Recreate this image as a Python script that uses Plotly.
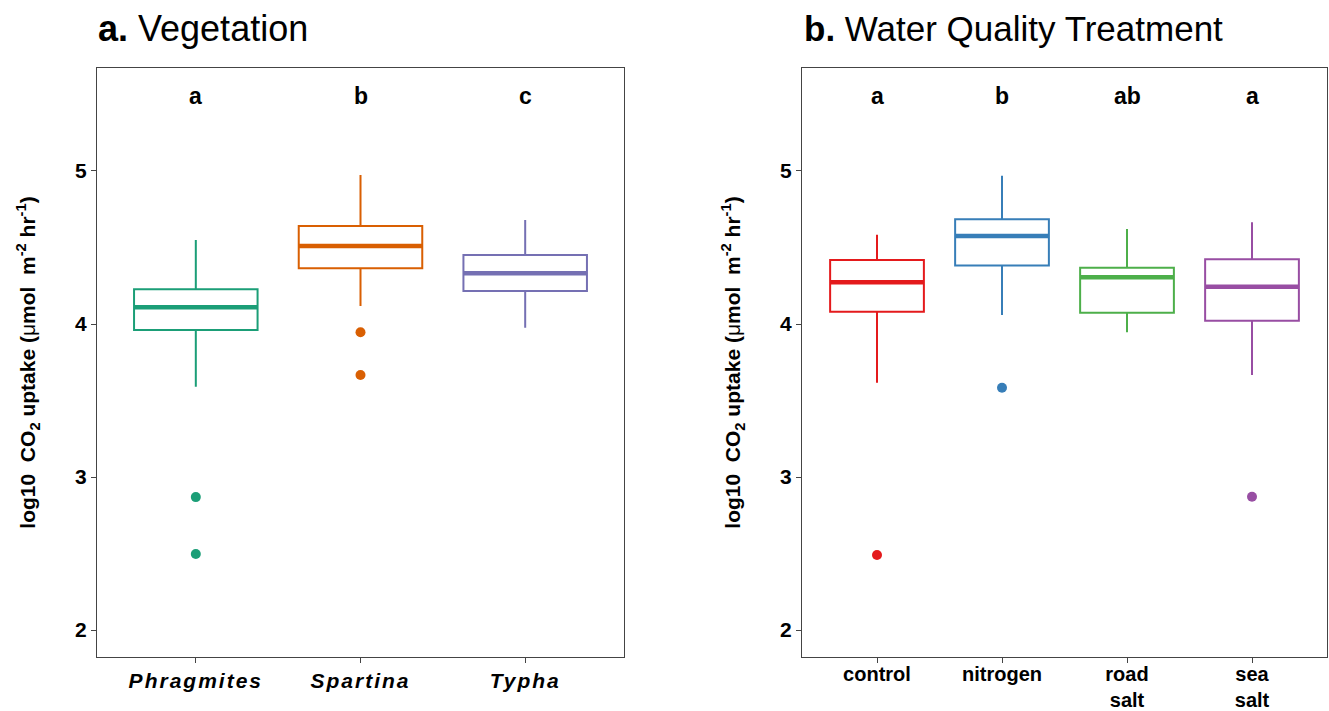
import plotly.graph_objects as go

# ---------------- data ----------------
veg_names = ["Phragmites", "Spartina", "Typha"]
veg_q1 = [3.961, 4.364, 4.216]
veg_median = [4.109, 4.510, 4.331]
veg_q3 = [4.227, 4.641, 4.451]
veg_low = [3.590, 4.118, 3.976]
veg_high = [4.549, 4.974, 4.680]
veg_outliers = [[2.869, 2.497], [3.946, 3.667], []]
veg_letters = ["a", "b", "c"]
veg_colors = ["#1B9E77", "#D95F02", "#7570B3"]

wq_names = ["control", "nitrogen", "road<br>salt", "sea<br>salt"]
wq_q1 = [4.080, 4.383, 4.074, 4.022]
wq_median = [4.273, 4.575, 4.305, 4.244]
wq_q3 = [4.418, 4.684, 4.368, 4.423]
wq_low = [3.616, 4.059, 3.946, 3.667]
wq_high = [4.584, 4.969, 4.621, 4.665]
wq_outliers = [[2.490], [3.584], [], [2.871]]
wq_letters = ["a", "b", "ab", "a"]
wq_colors = ["#E41A1C", "#377EB8", "#4DAF4A", "#984EA3"]

y_ticks = [2, 3, 4, 5]
y_range = [1.824, 5.673]
letter_y = 5.49
BOX_W = 0.75

FONT = "Liberation Sans, Arial, sans-serif"
W, H = 1329, 711

fig = go.Figure()


def add_panel(names, q1, med, q3, low, high, outl, letters, colors, xa, ya):
    for i in range(len(names)):
        c = colors[i]
        fig.add_trace(go.Box(
            x=[i], q1=[q1[i]], median=[med[i]], q3=[q3[i]],
            lowerfence=[low[i]], upperfence=[high[i]],
            width=BOX_W, whiskerwidth=0, boxpoints=False,
            line=dict(color=c, width=2), fillcolor="rgba(255,255,255,0)",
            xaxis=xa, yaxis=ya, showlegend=False, hoverinfo="skip"))
        # thick median line
        fig.add_trace(go.Scatter(
            x=[i - BOX_W / 2, i + BOX_W / 2], y=[med[i], med[i]],
            mode="lines", line=dict(color=c, width=4.5),
            xaxis=xa, yaxis=ya, showlegend=False, hoverinfo="skip"))
        if outl[i]:
            fig.add_trace(go.Scatter(
                x=[i] * len(outl[i]), y=outl[i], mode="markers",
                marker=dict(color=c, size=10),
                xaxis=xa, yaxis=ya, showlegend=False, hoverinfo="skip"))
        fig.add_annotation(x=i, y=letter_y, xref=xa, yref=ya, text="<b>%s</b>" % letters[i],
                           showarrow=False, font=dict(family=FONT, size=23, color="black"))


add_panel(veg_names, veg_q1, veg_median, veg_q3, veg_low, veg_high, veg_outliers,
          veg_letters, veg_colors, "x", "y")
add_panel(wq_names, wq_q1, wq_median, wq_q3, wq_low, wq_high, wq_outliers,
          wq_letters, wq_colors, "x2", "y2")

ytitle = ("<b>log10  CO<sub>2</sub> uptake (</b>μ<b>mol  m<sup>-2</sup> hr<sup>-1</sup>)</b>")

axis_common = dict(showline=True, linecolor="#444", linewidth=1, mirror=True,
                   ticks="outside", ticklen=5, tickcolor="#444", tickwidth=1,
                   showgrid=False, zeroline=False, automargin=False)
tick21 = dict(family=FONT, size=21, color="black")

fig.update_layout(
    width=W, height=H, margin=dict(l=0, r=0, t=0, b=0),
    paper_bgcolor="white", plot_bgcolor="white",
    font=dict(family=FONT, color="black"),
    xaxis=dict(domain=[97 / W, 624 / W], range=[-0.6, 2.6],
               tickvals=list(range(len(veg_names))), tickfont=tick21,
               ticktext=["<span style='letter-spacing:2px'><b><i>%s</i></b></span>" % n
                         for n in veg_names], anchor="y", **axis_common),
    yaxis=dict(domain=[1 - 657 / H, 1 - 68 / H], range=y_range, tickvals=y_ticks,
               ticktext=["<b>%d</b>" % v for v in y_ticks], anchor="x", tickfont=tick21,
               title=dict(text=ytitle, standoff=33, font=dict(family=FONT, size=21)),
               **axis_common),
    xaxis2=dict(domain=[802 / W, 1327 / W], range=[-0.6, 3.6],
                tickvals=list(range(len(wq_names))), ticklabelstandoff=-6,
                tickfont=dict(family=FONT, size=20, color="black"),
                ticktext=["<b>%s</b>" % n for n in wq_names], anchor="y2", **axis_common),
    yaxis2=dict(domain=[1 - 657 / H, 1 - 68 / H], range=y_range, tickvals=y_ticks,
                ticktext=["<b>%d</b>" % v for v in y_ticks], anchor="x2", tickfont=tick21,
                title=dict(text=ytitle, standoff=33, font=dict(family=FONT, size=21)),
                **axis_common),
)

fig.add_annotation(xref="paper", yref="paper", x=96 / W, y=1 - 28 / H, xanchor="left",
                   yanchor="middle", showarrow=False, text="<b>a.</b> Vegetation",
                   font=dict(family=FONT, size=36, color="black"))
fig.add_annotation(xref="paper", yref="paper", x=802 / W, y=1 - 28 / H, xanchor="left",
                   yanchor="middle", showarrow=False, text="<b>b.</b> Water Quality Treatment",
                   font=dict(family=FONT, size=35, color="black"))

fig.write_html("out.html", config={"displayModeBar": False},
               post_script="document.body.style.margin='0';")
